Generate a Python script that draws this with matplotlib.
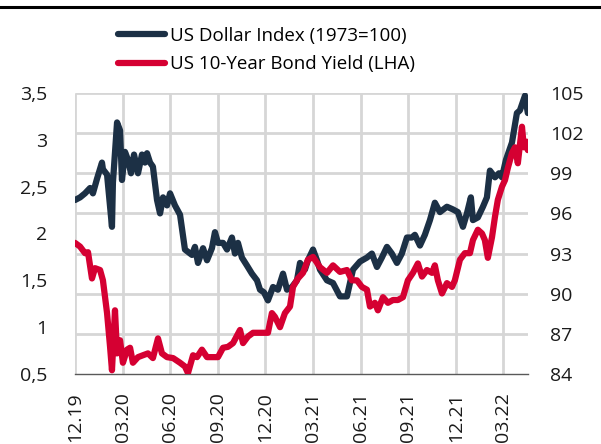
import matplotlib.pyplot as plt
from matplotlib.lines import Line2D

plt.rcParams['font.family'] = ['Open Sans', 'DejaVu Sans']

# months since 01.12.2019
usd_t = [0.0, 0.32, 0.63, 0.95, 1.13, 1.39, 1.70, 1.76, 2.02, 2.33, 2.39, 2.65, 2.84, 2.96,
         3.15, 3.34, 3.53, 3.72, 3.97, 4.22, 4.41, 4.54, 4.73, 4.91, 5.17, 5.36, 5.55, 5.80,
         5.99, 6.30, 6.62, 6.93, 7.37, 7.56, 7.75, 8.07, 8.32, 8.63, 8.82, 9.01, 9.33, 9.58,
         9.89, 10.08, 10.27, 10.52, 10.84, 11.15, 11.47, 11.66, 11.91, 12.16, 12.48, 12.79,
         13.11, 13.36, 13.67, 13.99, 14.18, 14.49, 14.68, 15.00, 15.25, 15.44, 15.88, 16.26,
         16.70, 17.14, 17.52, 17.96, 18.40, 18.71, 19.03, 19.34, 19.66, 19.97, 20.29, 20.60,
         20.92, 21.23, 21.42, 21.74, 22.05, 22.37, 22.68, 23.00, 23.44, 23.82, 24.13, 24.45,
         24.70, 24.95, 25.08, 25.39, 25.71, 25.96, 26.15, 26.47, 26.72, 26.91, 27.16, 27.54,
         27.85, 28.04, 28.36, 28.54]
usd_index = [97.0, 97.2, 97.5, 97.9, 97.5, 98.6, 99.8, 99.3, 98.9, 95.0, 98.3, 102.8, 102.2, 98.5,
             100.6, 100.0, 99.0, 100.4, 99.0, 100.4, 99.8, 100.5, 99.8, 99.5, 97.0, 96.0, 97.2, 96.6,
             97.5, 96.6, 95.9, 93.3, 92.9, 93.5, 92.3, 93.4, 92.5, 93.4, 94.6, 93.8, 93.8, 93.3,
             94.2, 93.0, 93.8, 92.7, 92.1, 91.5, 91.0, 90.3, 90.1, 89.5, 90.5, 90.3,
             91.5, 90.3, 90.5, 91.0, 92.3, 91.8, 92.5, 93.3, 92.5, 91.8, 91.0, 90.8,
             89.8, 89.8, 91.8, 92.4, 92.7, 93.0, 92.0, 92.7, 93.5, 93.0, 92.3, 93.0,
             94.2, 94.2, 94.4, 93.6, 94.4, 95.5, 96.8, 96.1, 96.5, 96.3, 96.1, 95.0,
             96.0, 97.2, 95.5, 95.7, 96.5, 97.2, 99.2, 98.7, 99.0, 98.7, 100.0, 101.3,
             103.5, 103.7, 104.8, 103.5]

bond_t = [0.0, 0.32, 0.63, 0.82, 1.07, 1.26, 1.58, 1.76, 2.02, 2.21, 2.33, 2.52, 2.65, 2.84,
          3.02, 3.28, 3.47, 3.65, 3.97, 4.28, 4.60, 4.91, 5.23, 5.48, 5.80, 6.18, 6.62, 6.93,
          7.12, 7.44, 7.69, 8.00, 8.32, 8.70, 9.01, 9.33, 9.64, 9.96, 10.40, 10.59, 10.90,
          11.22, 11.53, 11.85, 12.16, 12.41, 12.60, 12.92, 13.23, 13.55, 13.74, 14.05, 14.37,
          14.68, 15.00, 15.44, 15.88, 16.26, 16.70, 17.14, 17.45, 17.77, 18.08, 18.40, 18.59,
          18.90, 19.09, 19.41, 19.72, 20.04, 20.35, 20.67, 20.98, 21.30, 21.61, 21.87, 22.18,
          22.50, 22.68, 22.87, 23.13, 23.44, 23.76, 23.94, 24.26, 24.57, 24.89, 25.08, 25.39,
          25.65, 25.83, 26.02, 26.28, 26.47, 26.65, 26.91, 27.10, 27.28, 27.54, 27.73, 27.91,
          28.17, 28.29, 28.48, 28.54]
bond_yield = [1.90, 1.86, 1.79, 1.80, 1.52, 1.63, 1.61, 1.50, 1.15, 0.79, 0.54, 1.18, 0.72, 0.86,
              0.62, 0.76, 0.78, 0.62, 0.68, 0.70, 0.72, 0.67, 0.88, 0.72, 0.68, 0.67, 0.62, 0.58,
              0.51, 0.70, 0.68, 0.76, 0.68, 0.68, 0.68, 0.78, 0.79, 0.83, 0.97, 0.83, 0.90,
              0.94, 0.94, 0.94, 0.94, 1.15, 1.11, 1.00, 1.15, 1.22, 1.43, 1.52, 1.58,
              1.72, 1.75, 1.64, 1.58, 1.66, 1.59, 1.61, 1.50, 1.50, 1.43, 1.40, 1.22,
              1.26, 1.18, 1.32, 1.26, 1.29, 1.29, 1.32, 1.50, 1.58, 1.68, 1.54, 1.61,
              1.58, 1.66, 1.50, 1.36, 1.47, 1.43, 1.50, 1.72, 1.79, 1.79, 1.93, 2.04,
              2.00, 1.93, 1.74, 1.96, 2.18, 2.36, 2.50, 2.57, 2.70, 2.86, 2.92, 2.75,
              3.14, 2.92, 2.98, 2.89]

tick_pos = [0, 3, 6, 9, 12, 15, 18, 21, 24, 27]
tick_labels = ['12.19', '03.20', '06.20', '09.20', '12.20', '03.21', '06.21', '09.21', '12.21', '03.22']
left_ticks = [0.5, 1, 1.5, 2, 2.5, 3, 3.5]
left_labels = ['0,5', '1', '1,5', '2', '2,5', '3', '3,5']
right_ticks = [84, 87, 90, 93, 96, 99, 102, 105]

navy = '#1c3045'
red = '#d50032'
grid_col = '#d6d6d6'
fs = 14
rect = [75 / 601, 70 / 444, 453 / 601, 281 / 444]

fig = plt.figure(figsize=(6.01, 4.44), dpi=100, facecolor='white')

# right-hand axes (drawn first): grid, dollar index, right tick labels
axr = fig.add_axes(rect)
axr.set_xlim(0, 28.55)
axr.set_ylim(84, 105)
axr.vlines(tick_pos, 84, 105, colors=grid_col, linewidth=2.0, zorder=1)
axr.hlines(right_ticks[1:], 0, 28.55, colors=grid_col, linewidth=2.0, zorder=1)
axr.plot(usd_t, usd_index, color=navy, lw=4.5, solid_capstyle='round',
         solid_joinstyle='round', zorder=2)
axr.set_xticks([])
axr.set_yticks(right_ticks)
axr.yaxis.tick_right()
axr.tick_params(axis='y', length=0, pad=16, labelsize=fs, labelcolor='#1a1a1a')
for s in axr.spines.values():
    s.set_visible(False)

# left-hand axes on top: bond yield, left and bottom tick labels
axl = fig.add_axes(rect)
axl.patch.set_visible(False)
axl.set_xlim(0, 28.55)
axl.set_ylim(0.5, 3.5)
axl.plot(bond_t, bond_yield, color=red, lw=4.5, solid_capstyle='round',
         solid_joinstyle='round', zorder=3)
axl.set_xticks(tick_pos)
axl.set_xticklabels(tick_labels, rotation=90)
axl.set_yticks(left_ticks)
axl.set_yticklabels(left_labels)
axl.tick_params(axis='y', length=0, pad=20, labelsize=fs, labelcolor='#1a1a1a')
axl.tick_params(axis='x', length=0, pad=13, labelsize=fs, labelcolor='#1a1a1a')
for s in ('top', 'left', 'right'):
    axl.spines[s].set_visible(False)
axl.spines['bottom'].set_color('#595959')
axl.spines['bottom'].set_linewidth(1)

# black rule along the top
fig.add_artist(Line2D([0, 1], [1 - 7 / 444, 1 - 7 / 444], color='black', lw=2.2))

handles = [Line2D([], [], color=navy, lw=4.5, solid_capstyle='round'),
           Line2D([], [], color=red, lw=4.5, solid_capstyle='round')]
fig.legend(handles, ['US Dollar Index (1973=100)', 'US 10-Year Bond Yield (LHA)'],
           loc='upper left', bbox_to_anchor=(118 / 601, 1 - 27 / 444), frameon=False,
           fontsize=13.5, handlelength=2.5, handletextpad=0.25, labelspacing=0.55,
           borderpad=0, borderaxespad=0)

fig.savefig('out.png', dpi=100)
